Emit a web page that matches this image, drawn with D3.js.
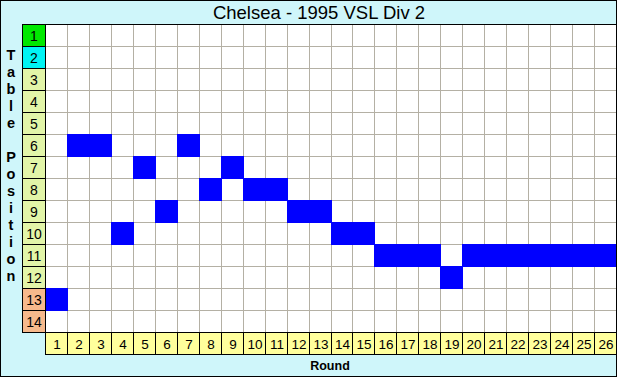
<!DOCTYPE html>
<html><head><meta charset="utf-8">
<script src="https://cdn.jsdelivr.net/npm/d3@7"></script>
<style>body{margin:0;background:#fff}svg{display:block}text{font-family:"Liberation Sans",Arial,sans-serif}</style>
</head><body>
<svg id="c" width="617" height="377"></svg>
<script>
const title = "Chelsea - 1995 VSL Div 2";
const rounds = d3.range(1, 27);
const positions = d3.range(1, 15);
const tablePos = [13,6,6,10,7,9,6,8,7,8,8,9,9,10,10,11,11,11,12,11,11,11,11,11,11,11];
const yTitle = "Table Position";
const xTitle = "Round";
const zoneColor = p => p === 1 ? "#00e800" : p === 2 ? "#00f4f4" : p >= 13 ? "#f6b98c" : "#e2f5a8";

const W = 617, H = 377;
const m = {l: 45, t: 24, r: 616, b: 332};
const svg = d3.select("#c");
svg.append("rect").attr("x",0.5).attr("y",0.5).attr("width",W-1).attr("height",H-1).attr("fill","#cff6fa").attr("stroke","#000");

const x = d3.scaleBand().domain(rounds).range([m.l, m.r]);
const y = d3.scaleBand().domain(positions).range([m.t, m.b]);

svg.append("rect").attr("x",m.l).attr("y",m.t).attr("width",m.r-m.l).attr("height",m.b-m.t).attr("fill","#fff");
const g = svg.append("g").attr("stroke","#b4b0a4").attr("stroke-width",1);
rounds.slice(1).forEach(r => g.append("line").attr("x1",Math.round(x(r))+0.5).attr("x2",Math.round(x(r))+0.5).attr("y1",m.t).attr("y2",m.b));
positions.slice(1).forEach(p => g.append("line").attr("y1",Math.round(y(p))+0.5).attr("y2",Math.round(y(p))+0.5).attr("x1",m.l).attr("x2",m.r));

svg.append("g").selectAll("rect").data(tablePos).join("rect")
  .attr("x",(d,i)=>Math.round(x(rounds[i]))).attr("width",(d,i)=>Math.round(x(rounds[i])+x.bandwidth())-Math.round(x(rounds[i]))+ (i<rounds.length-1?1:0))
  .attr("y",d=>Math.round(y(d))).attr("height",d=>Math.round(y(d)+y.bandwidth())-Math.round(y(d))+1)
  .attr("fill","#0000ff");

svg.append("line").attr("x1",22).attr("x2",W).attr("y1",m.t+0.5).attr("y2",m.t+0.5).attr("stroke","#000");

const lw = 23;
const yc = svg.append("g");
positions.forEach(p => {
  const y0 = Math.round(y(p)), y1 = Math.round(y(p)+y.bandwidth());
  yc.append("rect").attr("x",m.l-lw+0.5).attr("y",y0+0.5).attr("width",lw).attr("height",y1-y0).attr("fill",zoneColor(p)).attr("stroke","#000");
  yc.append("text").attr("x",m.l-lw/2+0.5).attr("y",(y0+y1)/2+5.5).attr("text-anchor","middle").attr("font-size",14).text(p);
});
const xc = svg.append("g");
rounds.forEach(r => {
  const x0 = Math.round(x(r)), x1 = Math.round(x(r)+x.bandwidth());
  xc.append("rect").attr("x",x0+0.5).attr("y",m.b+0.5).attr("width",x1-x0).attr("height",22).attr("fill","#ffff9c").attr("stroke","#000");
  xc.append("text").attr("x",(x0+x1)/2+1).attr("y",m.b+16.5).attr("text-anchor","middle").attr("font-size",13.5).text(r);
});

svg.append("text").attr("x",319).attr("y",19).attr("text-anchor","middle").attr("font-size",18.5).text(title);
svg.append("text").attr("x",330).attr("y",370).attr("text-anchor","middle").attr("font-size",12.5).attr("font-weight","bold").text(xTitle);
const chars = yTitle.split("");
svg.append("g").selectAll("text").data(chars).join("text")
  .attr("x",11).attr("y",(d,i)=>60+i*17).attr("text-anchor","middle")
  .attr("font-size",14.5).attr("font-weight","bold").text(d=>d);
</script>
</body></html>
